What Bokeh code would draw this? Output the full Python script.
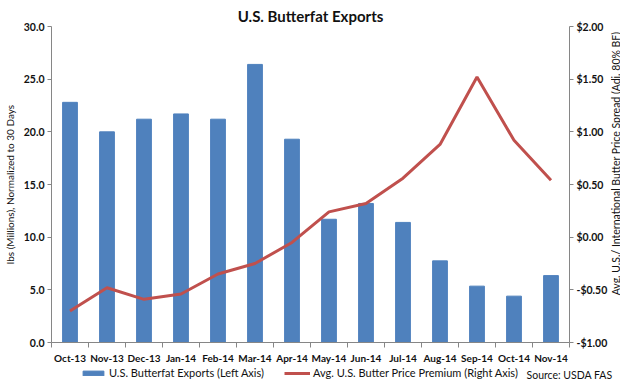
import math
from bokeh.plotting import figure
from bokeh.layouts import column, row
from bokeh.models import (Range1d, LinearAxis, FixedTicker, Legend, LegendItem, Label,
                          NumeralTickFormatter, CustomJSTickFormatter)
from bokeh.embed import file_html
from bokeh.resources import INLINE

months = ["Oct-13", "Nov-13", "Dec-13", "Jan-14", "Feb-14", "Mar-14", "Apr-14",
          "May-14", "Jun-14", "Jul-14", "Aug-14", "Sep-14", "Oct-14", "Nov-14"]
exports = [22.8, 20.0, 21.2, 21.7, 21.2, 26.4, 19.3, 11.7, 13.2, 11.4, 7.75, 5.35, 4.4, 6.35]
premium = [-0.70, -0.48, -0.59, -0.54, -0.35, -0.25, -0.05, 0.24, 0.32, 0.56, 0.88, 1.52, 0.92, 0.54]
left_ticks = [0, 5, 10, 15, 20, 25, 30]
right_ticks = [-1.0, -0.5, 0.0, 0.5, 1.0, 1.5, 2.0]
bar_label = "U.S. Butterfat Exports (Left Axis)"
line_label = "Avg. U.S. Butter Price Premium (Right Axis)"
left_title = "lbs (Millions), Normalized to 30 Days"
right_title = "Avg. U.S./ International Butter Price Spread (Adj. 80% BF)"
source_text = "Source: USDA FAS"

FONT = "Lato"
GREY = "#868686"
TXT = "#111111"
BLUE = "#4F81BD"
RED = "#C0504D"

xs = list(range(len(months)))
MAIN_H = 366

p = figure(width=610, height=MAIN_H, output_backend="svg", toolbar_location=None,
           x_range=Range1d(-0.5, len(months) - 0.5), y_range=Range1d(0, 30),
           min_border_left=39, min_border_right=41, min_border_top=26, min_border_bottom=21,
           x_axis_type=None, y_axis_type=None)
p.outline_line_color = None
p.background_fill_color = "white"
p.border_fill_color = "white"

p.title.text = "U.S. Butterfat Exports"
p.title.align = "center"
p.title.text_font = FONT
p.title.text_font_size = "15px"
p.title.text_font_style = "bold"
p.title.text_color = TXT
p.title.offset = 0
p.title.standoff = 3

p.extra_y_ranges = {"right": Range1d(-1, 2)}

# x axis
xaxis = LinearAxis(ticker=FixedTicker(ticks=xs, minor_ticks=[i - 0.5 for i in range(len(months) + 1)]),
                   formatter=CustomJSTickFormatter(args=dict(labels=months),
                                                   code="return labels[Math.round(tick)] || '';"))
xaxis.major_tick_in = 0
xaxis.major_tick_out = 0
xaxis.minor_tick_in = 0
xaxis.minor_tick_out = 5
xaxis.minor_tick_line_color = GREY
xaxis.axis_line_color = GREY
xaxis.major_label_text_font = FONT
xaxis.major_label_text_font_size = "10px"
xaxis.major_label_text_font_style = "bold"
xaxis.major_label_text_color = TXT
xaxis.major_label_standoff = 4
p.add_layout(xaxis, "below")

# left axis
laxis = LinearAxis(ticker=FixedTicker(ticks=left_ticks), formatter=NumeralTickFormatter(format="0.0"),
                   axis_label=left_title)
laxis.major_tick_in = 0
laxis.major_tick_out = 4
laxis.minor_tick_line_color = None
laxis.major_tick_line_color = GREY
laxis.axis_line_color = GREY
laxis.major_label_text_font = FONT
laxis.major_label_text_font_size = "10.5px"
laxis.major_label_text_font_style = "bold"
laxis.major_label_text_color = TXT
laxis.major_label_standoff = 3
laxis.axis_label_text_font = FONT
laxis.axis_label_text_font_size = "10px"
laxis.axis_label_text_font_style = "normal"
laxis.axis_label_text_color = TXT
laxis.axis_label_standoff = 5
p.add_layout(laxis, "left")

# right axis
raxis = LinearAxis(y_range_name="right", ticker=FixedTicker(ticks=right_ticks),
                   formatter=CustomJSTickFormatter(code="return (tick < 0 ? '-' : '') + '$' + Math.abs(tick).toFixed(2);"))
raxis.major_tick_in = 0
raxis.major_tick_out = 4
raxis.minor_tick_line_color = None
raxis.major_tick_line_color = GREY
raxis.axis_line_color = GREY
raxis.major_label_text_font = FONT
raxis.major_label_text_font_size = "10.5px"
raxis.major_label_text_font_style = "bold"
raxis.major_label_text_color = TXT
raxis.major_label_standoff = 3
p.add_layout(raxis, "right")

p.ygrid.ticker = FixedTicker(ticks=left_ticks)
p.ygrid.grid_line_color = GREY
p.ygrid.grid_line_width = 1
p.xgrid.grid_line_color = None

p.vbar(x=xs, top=exports, width=0.4, color=BLUE)
p.line(xs, premium, y_range_name="right", color=RED, line_width=3)

# narrow strip carrying the right axis title (reads bottom-to-top)
rt = figure(width=10, height=MAIN_H, output_backend="svg", toolbar_location=None,
            min_border_left=0, min_border_right=0, min_border_top=0, min_border_bottom=0,
            x_axis_type=None, y_axis_type=None)
rt.outline_line_color = None
rt.grid.grid_line_color = None
rt.add_layout(Label(x=5, y=MAIN_H - 187, x_units="screen", y_units="screen",
                    text=right_title, angle=math.pi / 2, text_align="center", text_baseline="middle",
                    text_font=FONT, text_font_size="10.5px", text_color=TXT))

# legend strip: same series drawn against ranges that keep them out of view
lg = figure(width=620, height=14, output_backend="svg", toolbar_location=None,
            x_range=Range1d(-0.5, len(months) - 0.5), y_range=Range1d(100, 101),
            min_border_left=0, min_border_right=0, min_border_top=0, min_border_bottom=0,
            x_axis_type=None, y_axis_type=None)
lg.outline_line_color = None
lg.grid.grid_line_color = None
lb = lg.vbar(x=xs, top=exports, width=0.4, color=BLUE)
ll = lg.line(xs, premium, color=RED, line_width=3)
legend_style = dict(orientation="horizontal", border_line_color=None, background_fill_alpha=0,
                    label_text_font=FONT, label_text_font_size="11px", label_text_color=TXT,
                    glyph_width=26, glyph_height=6, padding=0, margin=0, label_standoff=3,
                    label_height=11)
lg.add_layout(Legend(items=[LegendItem(label=bar_label, renderers=[lb])], location=(80, 1),
                     **legend_style), "center")
lg.add_layout(Legend(items=[LegendItem(label=line_label, renderers=[ll])], location=(284, 1),
                     **legend_style), "center")
lg.add_layout(Label(x=612, y=6, x_units="screen", y_units="screen", text=source_text,
                    text_font=FONT, text_font_size="10.5px", text_color=TXT, text_baseline="middle",
                    text_align="right"))

layout = column(row(p, rt), lg)
open("out.html", "w").write(file_html(layout, INLINE))
